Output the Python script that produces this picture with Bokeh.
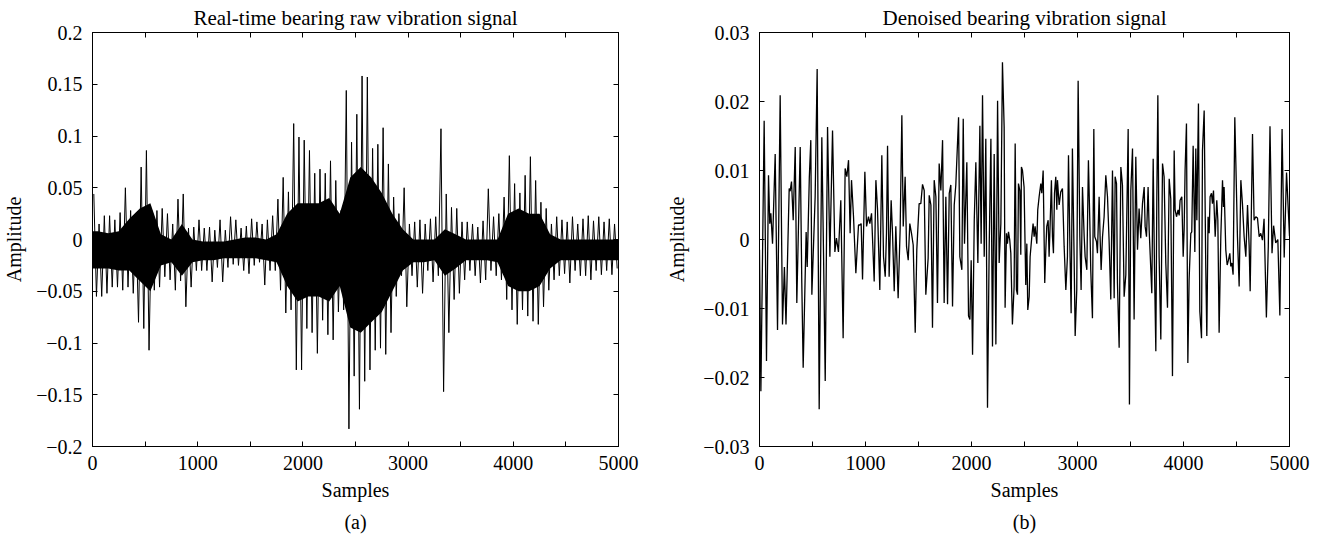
from bokeh.plotting import figure
from bokeh.layouts import row
from bokeh.models import FixedTicker, LinearAxis, Range1d, Title
from bokeh.embed import file_html
from bokeh.resources import INLINE

FONT = "Liberation Serif"
FS = "20px"
FS_TITLE = "21px"

# ---------------- data ----------------
# (a) raw vibration signal: peak max / min per 50-sample bin
raw_bin = 50
raw_upper = [0.044, 0.015, 0.023, 0.023, 0.019, 0.026, 0.050, 0.028, 0.020, 0.070,
             0.086, 0.028, 0.028, 0.030, 0.025, 0.015, 0.039, 0.044, 0.011, 0.012,
             0.019, 0.011, 0.012, 0.009, 0.019, 0.009, 0.022, 0.019, 0.011, 0.013,
             0.020, 0.017, 0.015, 0.019, 0.023, 0.039, 0.060, 0.046, 0.112, 0.099,
             0.096, 0.086, 0.064, 0.068, 0.064, 0.076, 0.057, 0.028, 0.144, 0.094,
             0.121, 0.158, 0.157, 0.088, 0.092, 0.108, 0.073, 0.041, 0.025, 0.050,
             0.015, 0.017, 0.019, 0.015, 0.020, 0.022, 0.107, 0.044, 0.031, 0.030,
             0.017, 0.017, 0.015, 0.012, 0.018, 0.049, 0.022, 0.025, 0.041, 0.081,
             0.054, 0.045, 0.062, 0.080, 0.057, 0.036, 0.030, 0.015, 0.022, 0.019,
             0.017, 0.022, 0.015, 0.020, 0.023, 0.018, 0.022, 0.017, 0.020, 0.015]
raw_lower = [-0.055, -0.055, -0.052, -0.046, -0.046, -0.049, -0.046, -0.052, -0.080, -0.086,
             -0.107, -0.049, -0.046, -0.036, -0.039, -0.049, -0.040, -0.065, -0.046, -0.030,
             -0.030, -0.030, -0.041, -0.027, -0.041, -0.027, -0.024, -0.025, -0.030, -0.033,
             -0.025, -0.022, -0.044, -0.030, -0.030, -0.049, -0.071, -0.068, -0.126, -0.126,
             -0.086, -0.090, -0.110, -0.078, -0.092, -0.097, -0.070, -0.068, -0.183, -0.132,
             -0.164, -0.137, -0.126, -0.107, -0.105, -0.111, -0.090, -0.055, -0.035, -0.065,
             -0.035, -0.046, -0.052, -0.030, -0.041, -0.035, -0.147, -0.090, -0.058, -0.052,
             -0.039, -0.030, -0.035, -0.042, -0.039, -0.030, -0.035, -0.039, -0.058, -0.068,
             -0.082, -0.068, -0.074, -0.079, -0.082, -0.065, -0.049, -0.039, -0.035, -0.033,
             -0.042, -0.030, -0.035, -0.035, -0.039, -0.030, -0.034, -0.030, -0.034, -0.028]
# dense (solid black) core of the raw signal per 100-sample bin
core_bin = 100
core_hi = [0.008, 0.006, 0.008, 0.020, 0.030, 0.035, 0.005, 0.000, 0.015, 0.000,
           -0.002, -0.002, -0.002, 0.000, 0.002, 0.002, 0.000, 0.005, 0.025, 0.035,
           0.035, 0.035, 0.040, 0.025, 0.060, 0.070, 0.060, 0.045, 0.025, 0.010,
           0.000, 0.000, 0.000, 0.010, 0.005, 0.000, 0.000, 0.000, 0.000, 0.025,
           0.030, 0.025, 0.025, 0.005, 0.000, 0.000, 0.000, 0.000, 0.000, 0.000]
core_lo = [-0.028, -0.028, -0.030, -0.030, -0.040, -0.050, -0.025, -0.022, -0.035, -0.022,
           -0.020, -0.020, -0.018, -0.018, -0.018, -0.018, -0.020, -0.022, -0.045, -0.060,
           -0.055, -0.055, -0.060, -0.045, -0.085, -0.090, -0.080, -0.070, -0.050, -0.030,
           -0.022, -0.022, -0.020, -0.035, -0.028, -0.020, -0.020, -0.020, -0.022, -0.045,
           -0.050, -0.050, -0.045, -0.028, -0.020, -0.020, -0.020, -0.020, -0.020, -0.020]

# (b) denoised signal: turning points (sample, amplitude)
den_x = [0, 13, 44, 66, 85, 97, 107, 123, 148, 170, 195, 217, 235, 250, 280, 289, 302, 318, 337, 352,
         384, 399, 412, 440, 450, 470, 484, 494, 525, 544, 563, 588, 604, 620, 642, 664, 689, 711, 726, 745,
         767, 789, 808, 824, 840, 855, 868, 887, 909, 934, 947, 959, 972, 994, 1010, 1028, 1041, 1057, 1082, 1098,
         1113, 1135, 1154, 1170, 1186, 1198, 1208, 1223, 1242, 1255, 1271, 1286, 1308, 1327, 1343, 1356, 1374, 1387, 1403, 1418,
         1434, 1450, 1469, 1484, 1506, 1522, 1538, 1554, 1569, 1591, 1601, 1617, 1632, 1648, 1664, 1679, 1695, 1711, 1727, 1742,
         1758, 1774, 1790, 1805, 1821, 1837, 1852, 1878, 1890, 1909, 1922, 1934, 1956, 1972, 1985, 1997, 2010, 2026, 2041, 2060,
         2079, 2091, 2104, 2120, 2135, 2151, 2167, 2183, 2198, 2214, 2230, 2246, 2261, 2277, 2292, 2308, 2317, 2330, 2339, 2349,
         2361, 2371, 2386, 2402, 2412, 2424, 2434, 2443, 2456, 2465, 2471, 2481, 2496, 2512, 2522, 2531, 2544, 2553, 2569, 2581,
         2591, 2600, 2616, 2625, 2638, 2654, 2663, 2676, 2691, 2701, 2710, 2723, 2732, 2742, 2754, 2764, 2773, 2783, 2795, 2805,
         2811, 2827, 2842, 2858, 2874, 2890, 2905, 2915, 2930, 2940, 2952, 2968, 2978, 2993, 3006, 3022, 3034, 3047, 3063, 3072,
         3088, 3103, 3116, 3125, 3141, 3154, 3163, 3179, 3188, 3204, 3213, 3223, 3236, 3251, 3267, 3283, 3298, 3314, 3330, 3346,
         3355, 3368, 3377, 3393, 3409, 3424, 3440, 3456, 3478, 3490, 3503, 3519, 3534, 3550, 3566, 3581, 3597, 3613, 3629, 3638,
         3651, 3666, 3676, 3701, 3714, 3726, 3739, 3748, 3758, 3770, 3786, 3802, 3817, 3833, 3849, 3865, 3880, 3896, 3912, 3921,
         3934, 3949, 3959, 3968, 3984, 3997, 4006, 4015, 4028, 4041, 4053, 4069, 4078, 4091, 4107, 4116, 4126, 4141, 4154, 4170,
         4179, 4195, 4210, 4220, 4232, 4242, 4251, 4264, 4273, 4283, 4299, 4314, 4324, 4336, 4352, 4368, 4377, 4383, 4399, 4412,
         4424, 4437, 4446, 4456, 4468, 4484, 4494, 4509, 4525, 4541, 4556, 4572, 4588, 4604, 4619, 4629, 4651, 4666, 4682, 4698,
         4714, 4729, 4745, 4760, 4782, 4800, 4816, 4835, 4850, 4870, 4890, 4909, 4930, 4950, 4972, 5000]
den_y = [-0.0015, -0.0220, 0.0172, -0.0176, 0.0093, 0.0023, 0.0038, -0.0006, 0.0124, -0.0131,
         0.0209, -0.0123, -0.0040, -0.0123, 0.0074, 0.0070, 0.0084, 0.0028, 0.0134, -0.0092,
         0.0134, -0.0063, -0.0186, 0.0011, -0.0040, 0.0090, 0.0144, -0.0080, 0.0062, 0.0247,
         -0.0246, 0.0148, -0.0020, -0.0205, 0.0163, -0.0025, 0.0158, -0.0018, 0.0002, -0.0018,
         0.0057, -0.0143, 0.0103, 0.0091, 0.0115, 0.0009, 0.0086, 0.0033, -0.0049, 0.0021,
         0.0021, 0.0023, -0.0058, 0.0098, 0.0019, 0.0033, 0.0023, 0.0038, -0.0061, 0.0086,
         0.0045, -0.0073, 0.0122, -0.0025, -0.0054, 0.0009, 0.0136, -0.0054, 0.0057, 0.0009,
         -0.0075, 0.0019, -0.0085, 0.0016, 0.0180, 0.0019, 0.0091, -0.0010, -0.0030, 0.0023,
         0.0009, -0.0008, -0.0135, -0.0015, 0.0052, 0.0052, 0.0080, 0.0071, -0.0080, -0.0027,
         0.0064, 0.0050, -0.0128, 0.0086, 0.0062, -0.0092, 0.0110, 0.0071, 0.0144, -0.0092,
         0.0062, -0.0094, 0.0067, 0.0079, -0.0097, 0.0050, 0.0079, 0.0177, -0.0025, -0.0044,
         0.0175, -0.0006, 0.0112, -0.0111, -0.0116, -0.0030, -0.0167, 0.0028, 0.0112, -0.0034,
         0.0165, -0.0006, 0.0209, -0.0025, 0.0146, -0.0244, -0.0010, 0.0146, -0.0155, 0.0124,
         -0.0152, 0.0201, -0.0034, 0.0023, 0.0257, 0.0163, -0.0099, 0.0009, -0.0006, 0.0011,
         -0.0001, -0.0020, -0.0123, -0.0068, 0.0139, -0.0073, -0.0080, 0.0081, 0.0071, -0.0022,
         0.0105, 0.0100, 0.0076, -0.0066, -0.0006, -0.0102, -0.0083, -0.0025, 0.0004, 0.0023,
         0.0004, 0.0019, -0.0006, 0.0043, 0.0062, 0.0081, 0.0067, 0.0100, -0.0063, -0.0015,
         0.0019, 0.0028, -0.0025, 0.0023, 0.0086, 0.0004, -0.0020, 0.0067, 0.0091, 0.0043,
         0.0086, 0.0050, 0.0069, 0.0074, -0.0010, -0.0073, -0.0025, 0.0122, -0.0025, -0.0107,
         0.0132, -0.0025, -0.0140, -0.0073, 0.0230, 0.0004, -0.0073, 0.0076, 0.0004, -0.0025,
         -0.0044, 0.0115, 0.0028, -0.0044, -0.0114, 0.0160, 0.0004, -0.0003, -0.0020, 0.0062,
         0.0004, -0.0044, 0.0004, 0.0033, 0.0093, 0.0062, -0.0001, -0.0087, 0.0100, -0.0085,
         0.0091, 0.0081, -0.0063, -0.0157, 0.0105, 0.0079, -0.0083, -0.0051, 0.0160, -0.0239,
         0.0071, 0.0132, -0.0116, 0.0120, -0.0015, 0.0045, 0.0002, 0.0052, 0.0076, 0.0019,
         0.0004, 0.0076, 0.0014, -0.0078, 0.0117, -0.0039, -0.0162, 0.0057, 0.0209, -0.0025,
         -0.0145, 0.0110, 0.0091, -0.0034, -0.0099, 0.0088, 0.0059, -0.0198, 0.0129, 0.0043,
         0.0033, 0.0043, 0.0035, 0.0057, 0.0062, -0.0025, 0.0014, 0.0100, 0.0168, -0.0179,
         -0.0058, 0.0009, 0.0011, 0.0136, -0.0018, 0.0132, 0.0028, 0.0197, -0.0104, -0.0143,
         0.0129, 0.0187, -0.0039, -0.0140, 0.0033, 0.0009, 0.0062, 0.0067, 0.0052, 0.0071,
         0.0004, 0.0057, 0.0028, -0.0135, 0.0004, 0.0086, 0.0047, 0.0076, -0.0015, -0.0037,
         -0.0030, -0.0020, -0.0039, -0.0034, -0.0051, 0.0177, 0.0110, 0.0004, -0.0068, 0.0086,
         0.0052, 0.0004, -0.0025, 0.0050, -0.0008, -0.0075, 0.0153, 0.0028, 0.0033, 0.0031,
         0.0004, 0.0009, -0.0001, 0.0030, -0.0113, -0.0010, 0.0164, -0.0020, 0.0020, -0.0005,
         0.0000, -0.0110, 0.0160, -0.0026, 0.0097, 0.0005]

x_ticks = [0, 500, 1000, 1500, 2000, 2500, 3000, 3500, 4000, 4500, 5000]
x_tick_labels = ["0", "", "1000", "", "2000", "", "3000", "", "4000", "", "5000"]
y_ticks_a = [-0.2, -0.15, -0.1, -0.05, 0, 0.05, 0.1, 0.15, 0.2]
y_labels_a = ["\u22120.2", "\u22120.15", "\u22120.1", "\u22120.05", "0", "0.05", "0.1", "0.15", "0.2"]
y_ticks_b = [-0.03, -0.02, -0.01, 0, 0.01, 0.02, 0.03]
y_labels_b = ["\u22120.03", "\u22120.02", "\u22120.01", "0", "0.01", "0.02", "0.03"]

titles = ["Real-time bearing raw vibration signal", "Denoised bearing vibration signal"]
captions = ["(a)", "(b)"]


def make_fig(width, left, right, yr, yticks, ylabels, title, caption, ylab_standoff):
    p = figure(width=width, height=542, x_range=Range1d(0, 5000), y_range=Range1d(*yr),
               output_backend="svg", toolbar_location=None,
               min_border_left=left, min_border_right=right,
               min_border_top=30, min_border_bottom=96)
    p.background_fill_color = "white"
    p.border_fill_color = "white"
    p.outline_line_color = "black"
    p.outline_line_width = 1
    p.grid.visible = False
    p.title.text = title
    p.title.align = "center"
    p.title.text_font = FONT
    p.title.text_font_size = FS_TITLE
    p.title.text_font_style = "normal"
    p.title.text_color = "black"
    p.title.standoff = 6

    xt = FixedTicker(ticks=x_ticks, minor_ticks=[])
    yt = FixedTicker(ticks=yticks, minor_ticks=[])
    xo = dict(zip(x_ticks, x_tick_labels))
    yo = dict(zip(yticks, ylabels))

    for ax, tk, ov in ((p.xaxis[0], xt, xo), (p.yaxis[0], yt, yo)):
        ax.ticker = tk
        ax.major_label_overrides = ov
        ax.major_tick_in = 5
        ax.major_tick_out = 0
        ax.minor_tick_line_color = None
        ax.axis_line_color = "black"
        ax.major_tick_line_color = "black"
        ax.major_label_text_font = FONT
        ax.major_label_text_font_size = FS
        ax.major_label_text_color = "black"
        ax.axis_label_text_font = FONT
        ax.axis_label_text_font_size = FS
        ax.axis_label_text_font_style = "normal"
        ax.axis_label_text_color = "black"
    p.xaxis.axis_label = "Samples"
    p.yaxis.axis_label = "Amplitude"
    p.xaxis.major_label_standoff = 9
    p.xaxis.axis_label_standoff = 6
    p.yaxis.major_label_standoff = 10
    p.yaxis.axis_label_standoff = ylab_standoff

    # box ticks on the top and right edges, as in the original frame
    for loc, tk in (("above", xt), ("right", yt)):
        ax = LinearAxis(ticker=tk, major_tick_in=5, major_tick_out=0,
                        minor_tick_line_color=None, major_label_text_font_size="0px",
                        major_label_standoff=0, axis_line_color="black")
        p.add_layout(ax, loc)

    p.add_layout(Title(text=caption, align="center", text_font=FONT, text_font_size=FS,
                       text_font_style="normal", text_color="black", standoff=10), "below")
    return p


pa = make_fig(660, 88, 42, (-0.2, 0.2), y_ticks_a, y_labels_a, titles[0], captions[0], 8)
pb = make_fig(664, 99, 35, (-0.03, 0.03), y_ticks_b, y_labels_b, titles[1], captions[1], 12)

# raw signal: dense core band plus a trace alternating between per-bin extremes
core_x = [0] + [core_bin * i + core_bin / 2 for i in range(len(core_hi))] + [5000]
core_top = [core_hi[0]] + core_hi + [core_hi[-1]]
core_bot = [core_lo[0]] + core_lo + [core_lo[-1]]
pa.varea(x=core_x, y1=core_bot, y2=core_top, fill_color="black")
zx, zy = [], []
for i, (u, l) in enumerate(zip(raw_upper, raw_lower)):
    zx += [raw_bin * i + raw_bin * 0.25, raw_bin * i + raw_bin * 0.75]
    zy += [u, l]
pa.line(zx, zy, line_color="black", line_width=1)

pb.line(den_x, den_y, line_color="black", line_width=1.3)

layout = row(pa, pb)
open("out.html", "w").write(file_html(layout, INLINE))
